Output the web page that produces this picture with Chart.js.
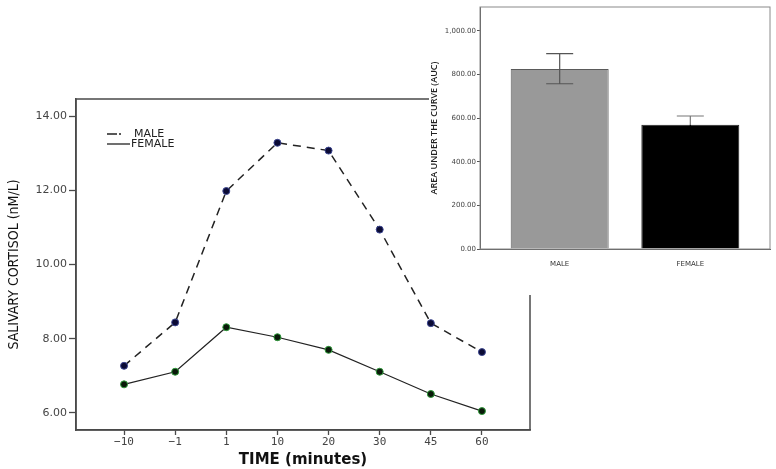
<!DOCTYPE html>
<html>
<head>
<meta charset="utf-8">
<script src="https://cdn.jsdelivr.net/npm/chart.js@4/dist/chart.umd.min.js"></script>
<style>
  html, body { margin: 0; padding: 0; background: #fff; }
  #wrap { position: relative; width: 776px; height: 469px; }
  #main { position: absolute; left: 0; top: 0; }
  #inset { position: absolute; left: 429px; top: 0; background: #fff; }
</style>
</head>
<body>
<div id="wrap">
  <canvas id="main" width="776" height="469"></canvas>
  <canvas id="inset" width="347" height="295"></canvas>
</div>
<script>
// time points (minutes) and mean cortisol per group
const timeLabels = ["\u221210", "\u22121", "1", "10", "20", "30", "45", "60"];
const maleCortisol = [7.27, 8.44, 11.98, 13.28, 13.07, 10.94, 8.42, 7.64];
const femaleCortisol = [6.77, 7.11, 8.31, 8.04, 7.70, 7.11, 6.51, 6.05];
const cortisolTicks = [6, 8, 10, 12, 14];

// inset : area under the curve
const groups = ["MALE", "FEMALE"];
const aucMean = [826, 570];
const aucLow = [758, 530];
const aucHigh = [896, 610];
const aucTicks = [0, 200, 400, 600, 800, 1000];

const axisColor = "#4a4a4a";

const toPoints = (arr) => arr.map((v, i) => ({ x: i, y: v }));

// frame round the plot + legend drawn inside the area
const framePlugin = {
  id: "frame",
  afterDraw(chart) {
    const { ctx, chartArea: a } = chart;
    ctx.save();
    ctx.strokeStyle = axisColor;
    ctx.lineWidth = 1.5;
    ctx.strokeRect(a.left, a.top, a.right - a.left, a.bottom - a.top);

    const items = [
      { text: "MALE", y: 134, dash: [10, 2, 3, 40], width: 14 },
      { text: "FEMALE", y: 144, dash: [], width: 23 }
    ];
    ctx.font = "11px 'DejaVu Sans'";
    ctx.fillStyle = "#222";
    ctx.textBaseline = "middle";
    items.forEach((it) => {
      ctx.beginPath();
      ctx.setLineDash(it.dash);
      ctx.lineWidth = 1.3;
      ctx.strokeStyle = "#222";
      ctx.moveTo(107, it.y);
      ctx.lineTo(107 + it.width, it.y);
      ctx.stroke();
      ctx.setLineDash([]);
      ctx.fillText(it.text, it.dash.length ? 134 : 131, it.y);
    });
    ctx.restore();
  }
};

new Chart(document.getElementById("main"), {
  type: "line",
  data: {
    datasets: [
      {
        label: "MALE",
        data: toPoints(maleCortisol),
        borderColor: "#222",
        borderWidth: 1.5,
        borderDash: [8, 6],
        pointRadius: 3.5,
        pointBackgroundColor: "#0b0b35",
        pointBorderColor: "#3c4690",
        pointBorderWidth: 1
      },
      {
        label: "FEMALE",
        data: toPoints(femaleCortisol),
        borderColor: "#222",
        borderWidth: 1.2,
        pointRadius: 3.5,
        pointBackgroundColor: "#0a1a0a",
        pointBorderColor: "#2f9a3a",
        pointBorderWidth: 1
      }
    ]
  },
  options: {
    responsive: false,
    animation: false,
    layout: { padding: { top: 99, right: 246, left: 0, bottom: 0 } },
    plugins: { legend: { display: false }, tooltip: { enabled: false } },
    scales: {
      x: {
        type: "linear",
        min: -0.94,
        max: 7.94,
        afterBuildTicks: (s) => { s.ticks = timeLabels.map((_, i) => ({ value: i })); },
        afterFit: (s) => { s.height = 39; },
        ticks: {
          callback: (v) => timeLabels[v],
          font: { family: "DejaVu Sans Mono", size: 11 },
          color: "#444",
          padding: 1,
          maxRotation: 0
        },
        grid: { drawOnChartArea: false, tickLength: 5, color: axisColor, tickWidth: 1.3 },
        border: { color: axisColor, width: 1.5 },
        title: {
          display: true,
          text: "TIME (minutes)",
          font: { family: "DejaVu Sans", size: 15, weight: "bold" },
          color: "#111",
          padding: { top: 2, bottom: 0 }
        }
      },
      y: {
        min: 5.54,
        max: 14.46,
        afterBuildTicks: (s) => { s.ticks = cortisolTicks.map((v) => ({ value: v })); },
        afterFit: (s) => { s.width = 76; },
        ticks: {
          callback: (v) => v.toFixed(2),
          font: { family: "DejaVu Sans", size: 11 },
          color: "#444",
          padding: 2
        },
        grid: { drawOnChartArea: false, tickLength: 7, color: axisColor, tickWidth: 1.3 },
        border: { color: axisColor, width: 1.5 },
        title: {
          display: true,
          text: "SALIVARY CORTISOL (nM/L)",
          font: { family: "'DejaVu Sans Condensed', Roboto", size: 14 },
          color: "#111",
          padding: { top: 6, bottom: 0 }
        }
      }
    }
  },
  plugins: [framePlugin]
});

// error bars and box for the inset
const insetPlugin = {
  id: "insetExtras",
  beforeDraw(chart) {
    const { ctx } = chart;
    ctx.save();
    ctx.fillStyle = "#fff";
    ctx.fillRect(0, 0, chart.width, chart.height);
    ctx.restore();
  },
  afterDraw(chart) {
    const { ctx, chartArea: a, scales } = chart;
    ctx.save();
    ctx.strokeStyle = "#8a8a8a";
    ctx.lineWidth = 1;
    ctx.strokeRect(a.left, a.top, a.right - a.left, a.bottom - a.top);
    // whisker colour above and below the bar top
    const upper = ["#555", "#777"];
    const lower = ["#555", "#000"];
    groups.forEach((g, i) => {
      const x = scales.x.getPixelForValue(i);
      const mid = scales.y.getPixelForValue(aucMean[i]);
      const lo = scales.y.getPixelForValue(aucLow[i]);
      const hi = scales.y.getPixelForValue(aucHigh[i]);
      ctx.lineWidth = 1.2;
      ctx.strokeStyle = upper[i];
      ctx.beginPath();
      ctx.moveTo(x, mid); ctx.lineTo(x, hi);
      ctx.moveTo(x - 13.5, hi); ctx.lineTo(x + 13.5, hi);
      ctx.stroke();
      ctx.strokeStyle = lower[i];
      ctx.beginPath();
      ctx.moveTo(x, mid); ctx.lineTo(x, lo);
      ctx.moveTo(x - 13.5, lo); ctx.lineTo(x + 13.5, lo);
      ctx.stroke();
    });
    ctx.restore();
  }
};

new Chart(document.getElementById("inset"), {
  type: "bar",
  data: {
    datasets: [
      {
        data: aucMean.map((v, i) => ({ x: i, y: v })),
        backgroundColor: ["#999999", "#000000"],
        borderColor: ["#5a5a5a", "#222222"],
        borderWidth: 1,
        barPercentage: 0.75,
        categoryPercentage: 1
      }
    ]
  },
  options: {
    responsive: false,
    animation: false,
    layout: { padding: { top: 7, right: 6, left: 0, bottom: 0 } },
    plugins: { legend: { display: false }, tooltip: { enabled: false } },
    scales: {
      x: {
        type: "linear",
        min: -0.61,
        max: 1.61,
        offset: false,
        afterBuildTicks: (s) => { s.ticks = groups.map((_, i) => ({ value: i })); },
        afterFit: (s) => { s.height = 46; },
        ticks: {
          callback: (v) => groups[v],
          font: { family: "DejaVu Sans", size: 7 },
          color: "#333",
          padding: 3
        },
        grid: { display: false },
        border: { color: "#555", width: 1 }
      },
      y: {
        min: 0,
        max: 1110,
        afterBuildTicks: (s) => { s.ticks = aucTicks.map((v) => ({ value: v })); },
        afterFit: (s) => { s.width = 51; },
        ticks: {
          callback: (v) => v.toLocaleString("en-US", { minimumFractionDigits: 2 }),
          font: { family: "DejaVu Sans", size: 7 },
          color: "#444",
          padding: 1
        },
        grid: { drawOnChartArea: false, tickLength: 3, color: "#555" },
        border: { color: "#555", width: 1 },
        title: {
          display: true,
          text: "AREA UNDER THE CURVE (AUC)",
          font: { family: "Open Sans", size: 9, weight: "600" },
          color: "#222",
          padding: { top: 0, bottom: 0 }
        }
      }
    }
  },
  plugins: [insetPlugin]
});
</script>
</body>
</html>
